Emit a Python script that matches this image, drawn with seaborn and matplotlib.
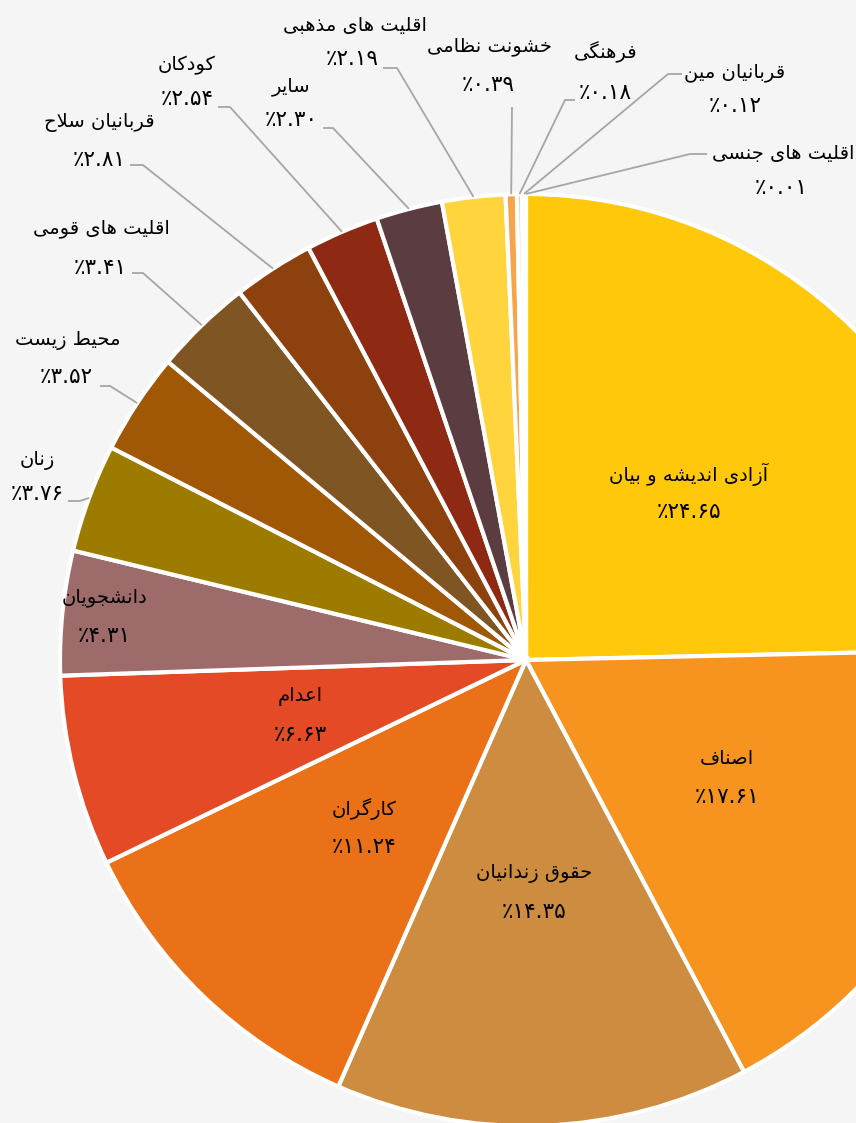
import unicodedata
import matplotlib
matplotlib.use("Agg")
import matplotlib.pyplot as plt
import seaborn as sns
import numpy as np

# ===================== data =====================
categories = [
    "آزادی اندیشه و بیان", "اصناف", "حقوق زندانیان", "کارگران", "اعدام",
    "دانشجویان", "زنان", "محیط زیست", "اقلیت های قومی", "قربانیان سلاح",
    "کودکان", "سایر", "اقلیت های مذهبی", "خشونت نظامی", "فرهنگی",
    "قربانیان مین", "اقلیت های جنسی",
]
shares = [24.65, 17.61, 14.35, 11.24, 6.63, 4.31, 3.76, 3.52, 3.41, 2.81,
          2.54, 2.30, 2.19, 0.39, 0.18, 0.12, 0.01]
colors = ["#FFC80B", "#F7931F", "#CD8C40", "#EB7118", "#E34A25", "#9E6B6B",
          "#9C7B00", "#A15806", "#7F5524", "#8C410E", "#8E2914", "#5B3C41",
          "#FFD43C", "#F7A54C", "#E8C8A0", "#F1D9B5", "#F3E4CC"]

# ===================== layout (image pixels, y from top) =====================
W, H = 856, 1123
CX, CY, R = 526, 660, 466
INSIDE = {0: 0.5, 1: 0.5, 2: 0.5, 3: 0.5, 4: 0.5, 5: 0.91}
# index: (name xy, percent xy, leader start, leader knee)
OUTSIDE = {
    6: ((37, 460), (37, 494), (68, 501), (80, 501)),
    7: ((68, 340), (66, 377), (100, 386), (110, 386)),
    8: ((101, 228), (100, 268), (132, 273), (143, 273)),
    9: ((99, 122), (99, 160), (130, 165), (143, 165)),
    10: ((187, 65), (187, 99), (218, 107), (230, 107)),
    11: ((291, 87), (291, 120), (323, 128), (333, 128)),
    12: ((355, 26), (352, 59), (383, 68), (397, 68)),
    13: ((489, 47), (488, 85), (512, 107), (512, 107)),
    14: ((606, 52), (605, 93), (575, 100), (565, 100)),
    15: ((735, 72), (735, 106), (682, 74), (668, 74)),
    16: ((783, 153), (781, 188), (707, 154), (690, 154)),
}
FS_NAME = 14
FS_PCT = 15.5
LINE_GAP = 19


# ===================== persian text helpers =====================
def shape(ch, kind):
    if ch == "\ufefb":
        return {"ISOLATED": "\ufefb", "FINAL": "\ufefc"}.get(kind)
    try:
        return unicodedata.lookup(f"{unicodedata.name(ch)} {kind} FORM")
    except (KeyError, ValueError):
        return None


def fa(text):
    # matplotlib has no arabic shaping: join letters by hand and reverse them
    text = text.replace("\u0644\u0627", "\ufefb")
    out = []
    for i, ch in enumerate(text):
        prev = text[i - 1] if i else ""
        nxt = text[i + 1] if i + 1 < len(text) else ""
        to_prev = bool(prev) and shape(prev, "INITIAL") is not None and shape(ch, "FINAL") is not None
        to_next = bool(nxt) and shape(ch, "INITIAL") is not None and shape(nxt, "FINAL") is not None
        kind = {(True, True): "MEDIAL", (True, False): "FINAL",
                (False, True): "INITIAL"}.get((to_prev, to_next), "ISOLATED")
        out.append(shape(ch, kind) or ch)
    return "".join(reversed(out))


def pct(v):
    return "\u066a" + f"{v:.2f}".translate(str.maketrans("0123456789", "۰۱۲۳۴۵۶۷۸۹"))


def up(p):
    return p[0], H - p[1]


# ===================== plot =====================
sns.set_theme(style="white")
plt.rcParams["font.family"] = ["DejaVu Sans"]

fig = plt.figure(figsize=(W / 100, H / 100), dpi=100)
fig.patch.set_facecolor("#f5f5f5")
ax = fig.add_axes([0, 0, 1, 1])
ax.set_facecolor("#f5f5f5")

wedges, _ = ax.pie(shares, colors=sns.color_palette(colors), startangle=90, counterclock=False,
                   radius=R, center=(CX, H - CY),
                   wedgeprops=dict(edgecolor="white", linewidth=3))
ax.set_xlim(0, W)
ax.set_ylim(0, H)
ax.set_aspect("equal")
ax.axis("off")

for i, w in enumerate(wedges):
    mid = np.deg2rad((w.theta1 + w.theta2) / 2)
    if i in INSIDE:
        f = INSIDE[i]
        x = CX + f * R * np.cos(mid)
        y = H - CY + f * R * np.sin(mid)
        ax.text(x, y + LINE_GAP, fa(categories[i]), ha="center", va="center", fontsize=FS_NAME, color="black")
        ax.text(x, y - LINE_GAP, pct(shares[i]), ha="center", va="center", fontsize=FS_PCT, color="black")
    else:
        name_xy, pct_xy, start, knee = OUTSIDE[i]
        ax.text(*up(name_xy), fa(categories[i]), ha="center", va="center", fontsize=FS_NAME, color="black")
        ax.text(*up(pct_xy), pct(shares[i]), ha="center", va="center", fontsize=FS_PCT, color="black")
        ex = CX + R * np.cos(mid)
        ey = H - CY + R * np.sin(mid)
        sx, sy = up(start)
        kx, ky = up(knee)
        ax.plot([sx, kx, ex], [sy, ky, ey], color="#a6a6a6", lw=1.3, solid_capstyle="butt")

fig.savefig("out.png", dpi=100, facecolor=fig.get_facecolor())
